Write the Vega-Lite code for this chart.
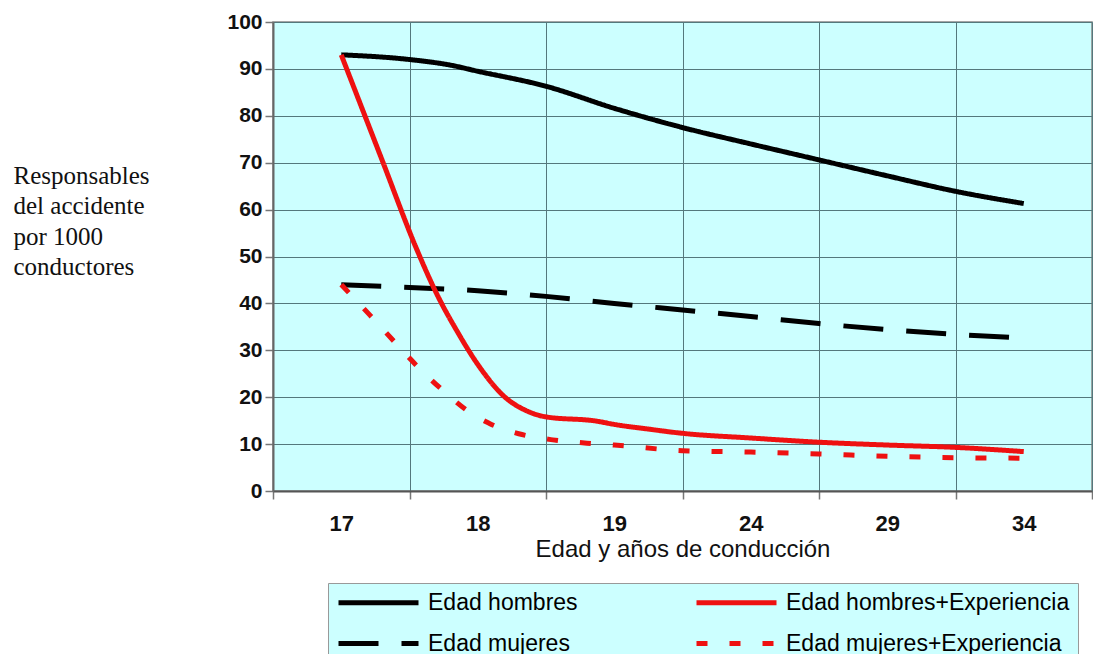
{
  "$schema": "https://vega.github.io/schema/vega-lite/v6.json",
  "width": 819,
  "height": 469,
  "autosize": {"type": "none"},
  "padding": {"left": 273, "top": 22, "right": 1, "bottom": 163},
  "background": "white",
  "config": {
    "view": {"fill": "#CCFFFF", "stroke": "#888888", "strokeWidth": 1.5},
    "font": "Liberation Sans"
  },
  "data": {
    "values": [
      {"serie": "Edad hombres", "pos": 0.5, "valor": 93},
      {"serie": "Edad hombres", "pos": 1.0, "valor": 92},
      {"serie": "Edad hombres", "pos": 1.3, "valor": 90.8},
      {"serie": "Edad hombres", "pos": 1.5, "valor": 89.5},
      {"serie": "Edad hombres", "pos": 2.0, "valor": 86.3},
      {"serie": "Edad hombres", "pos": 2.5, "valor": 81.6},
      {"serie": "Edad hombres", "pos": 3.0, "valor": 77.5},
      {"serie": "Edad hombres", "pos": 3.5, "valor": 74},
      {"serie": "Edad hombres", "pos": 4.0, "valor": 70.6},
      {"serie": "Edad hombres", "pos": 4.5, "valor": 67.2},
      {"serie": "Edad hombres", "pos": 5.0, "valor": 63.9},
      {"serie": "Edad hombres", "pos": 5.5, "valor": 61.3},
      {"serie": "Edad mujeres", "pos": 0.5, "valor": 44},
      {"serie": "Edad mujeres", "pos": 1.0, "valor": 43.4},
      {"serie": "Edad mujeres", "pos": 1.5, "valor": 42.7},
      {"serie": "Edad mujeres", "pos": 2.0, "valor": 41.5},
      {"serie": "Edad mujeres", "pos": 2.5, "valor": 40},
      {"serie": "Edad mujeres", "pos": 3.0, "valor": 38.6},
      {"serie": "Edad mujeres", "pos": 3.5, "valor": 37.2},
      {"serie": "Edad mujeres", "pos": 4.0, "valor": 35.7},
      {"serie": "Edad mujeres", "pos": 4.5, "valor": 34.4},
      {"serie": "Edad mujeres", "pos": 5.0, "valor": 33.4},
      {"serie": "Edad mujeres", "pos": 5.5, "valor": 32.6},
      {"serie": "Edad hombres+Experiencia", "pos": 0.5, "valor": 93},
      {"serie": "Edad hombres+Experiencia", "pos": 0.8, "valor": 70.5},
      {"serie": "Edad hombres+Experiencia", "pos": 1.055, "valor": 51.4},
      {"serie": "Edad hombres+Experiencia", "pos": 1.2, "valor": 42},
      {"serie": "Edad hombres+Experiencia", "pos": 1.35, "valor": 34},
      {"serie": "Edad hombres+Experiencia", "pos": 1.5, "valor": 27},
      {"serie": "Edad hombres+Experiencia", "pos": 1.7, "valor": 20},
      {"serie": "Edad hombres+Experiencia", "pos": 1.85, "valor": 17.2},
      {"serie": "Edad hombres+Experiencia", "pos": 2.0, "valor": 15.8},
      {"serie": "Edad hombres+Experiencia", "pos": 2.37, "valor": 14.9},
      {"serie": "Edad hombres+Experiencia", "pos": 2.5, "valor": 14.2},
      {"serie": "Edad hombres+Experiencia", "pos": 2.75, "valor": 13.2},
      {"serie": "Edad hombres+Experiencia", "pos": 3.0, "valor": 12.3},
      {"serie": "Edad hombres+Experiencia", "pos": 3.5, "valor": 11.3},
      {"serie": "Edad hombres+Experiencia", "pos": 4.0, "valor": 10.4},
      {"serie": "Edad hombres+Experiencia", "pos": 4.5, "valor": 9.8},
      {"serie": "Edad hombres+Experiencia", "pos": 5.0, "valor": 9.3},
      {"serie": "Edad hombres+Experiencia", "pos": 5.5, "valor": 8.4},
      {"serie": "Edad mujeres+Experiencia", "pos": 0.5, "valor": 44},
      {"serie": "Edad mujeres+Experiencia", "pos": 0.71, "valor": 37.5},
      {"serie": "Edad mujeres+Experiencia", "pos": 0.89, "valor": 31.8},
      {"serie": "Edad mujeres+Experiencia", "pos": 1.05, "valor": 26.8},
      {"serie": "Edad mujeres+Experiencia", "pos": 1.25, "valor": 21.3},
      {"serie": "Edad mujeres+Experiencia", "pos": 1.44, "valor": 16.8},
      {"serie": "Edad mujeres+Experiencia", "pos": 1.6, "valor": 14.2},
      {"serie": "Edad mujeres+Experiencia", "pos": 1.8, "valor": 12.2},
      {"serie": "Edad mujeres+Experiencia", "pos": 2.05, "valor": 10.9},
      {"serie": "Edad mujeres+Experiencia", "pos": 2.3, "valor": 10.2},
      {"serie": "Edad mujeres+Experiencia", "pos": 2.5, "valor": 9.8},
      {"serie": "Edad mujeres+Experiencia", "pos": 3.0, "valor": 8.6},
      {"serie": "Edad mujeres+Experiencia", "pos": 3.5, "valor": 8.3},
      {"serie": "Edad mujeres+Experiencia", "pos": 4.0, "valor": 7.9},
      {"serie": "Edad mujeres+Experiencia", "pos": 4.5, "valor": 7.4},
      {"serie": "Edad mujeres+Experiencia", "pos": 5.0, "valor": 7.1},
      {"serie": "Edad mujeres+Experiencia", "pos": 5.5, "valor": 7.0}
    ]
  },
  "mark": {"type": "line", "interpolate": "monotone", "strokeWidth": 5, "clip": true},
  "encoding": {
    "x": {
      "field": "pos",
      "type": "quantitative",
      "scale": {"domain": [0, 6], "nice": false, "zero": false},
      "axis": {
        "values": [0, 0.5, 1, 1.5, 2, 2.5, 3, 3.5, 4, 4.5, 5, 5.5, 6],
        "labelExpr": "datum.value % 1 === 0 ? '' : ['17','18','19','24','29','34'][floor(datum.value)]",
        "labelFlush": false,
        "labelOverlap": false,
        "labelFont": "Liberation Sans",
        "labelFontSize": 22,
        "labelFontWeight": "bold",
        "labelColor": "#111111",
        "labelPadding": 14,
        "labelBaseline": "top",
        "grid": true,
        "gridColor": "#54787c",
        "gridWidth": 1,
        "gridOpacity": {"condition": {"test": "datum.value % 1 !== 0", "value": 0}, "value": 1},
        "ticks": true,
        "tickSize": 8,
        "tickColor": "#777777",
        "tickWidth": 1.5,
        "tickOpacity": {"condition": {"test": "datum.value % 1 !== 0", "value": 0}, "value": 1},
        "domainColor": "#555555",
        "domainWidth": 2,
        "title": "Edad y años de conducción",
        "titleFont": "Liberation Sans",
        "titleFontSize": 24,
        "titleFontWeight": "normal",
        "titleColor": "#111111",
        "titlePadding": 3
      }
    },
    "y": {
      "field": "valor",
      "type": "quantitative",
      "scale": {"domain": [0, 100], "nice": false},
      "axis": {
        "values": [0, 10, 20, 30, 40, 50, 60, 70, 80, 90, 100],
        "labelFont": "Liberation Sans",
        "labelFontSize": 21,
        "labelFontWeight": "bold",
        "labelColor": "#111111",
        "labelPadding": 3,
        "grid": true,
        "gridColor": "#54787c",
        "gridWidth": 1,
        "tickSize": 8,
        "tickColor": "#777777",
        "tickWidth": 1.5,
        "domainColor": "#666666",
        "domainWidth": 2,
        "title": ["Responsables", "del accidente", "por 1000", "conductores"],
        "titleAngle": 0,
        "titleAlign": "left",
        "titleBaseline": "alphabetic",
        "titleX": -260,
        "titleY": 161,
        "titleLineHeight": 30.5,
        "titleFont": "Liberation Serif",
        "titleFontSize": 25,
        "titleFontWeight": "normal",
        "titleColor": "#111111"
      }
    },
    "color": {
      "field": "serie",
      "type": "nominal",
      "scale": {
        "domain": ["Edad hombres", "Edad mujeres", "Edad hombres+Experiencia", "Edad mujeres+Experiencia"],
        "range": ["#000000", "#000000", "#EE1111", "#EE1111"]
      },
      "legend": {
        "title": null,
        "orient": "none",
        "legendX": 55,
        "legendY": 561,
        "direction": "vertical",
        "columns": 2,
        "symbolType": "stroke",
        "symbolSize": 6400,
        "symbolStrokeWidth": 5,
        "clipHeight": 23,
        "labelFont": "Liberation Sans",
        "labelFontSize": 23,
        "labelColor": "#000000",
        "labelLimit": 500,
        "labelOffset": 7,
        "padding": 8,
        "rowPadding": 17,
        "columnPadding": 116,
        "fillColor": "#CCFFFF",
        "strokeColor": "#999999"
      }
    },
    "strokeDash": {
      "field": "serie",
      "type": "nominal",
      "scale": {
        "domain": ["Edad hombres", "Edad mujeres", "Edad hombres+Experiencia", "Edad mujeres+Experiencia"],
        "range": [[1, 0], [40, 23], [1, 0], [11, 22]]
      },
      "legend": {
        "title": null,
        "orient": "none",
        "legendX": 55,
        "legendY": 561,
        "direction": "vertical",
        "columns": 2,
        "symbolType": "stroke",
        "symbolSize": 6400,
        "symbolStrokeWidth": 5,
        "clipHeight": 23,
        "labelFont": "Liberation Sans",
        "labelFontSize": 23,
        "labelColor": "#000000",
        "labelLimit": 500,
        "labelOffset": 7,
        "padding": 8,
        "rowPadding": 17,
        "columnPadding": 116,
        "fillColor": "#CCFFFF",
        "strokeColor": "#999999"
      }
    }
  }
}
